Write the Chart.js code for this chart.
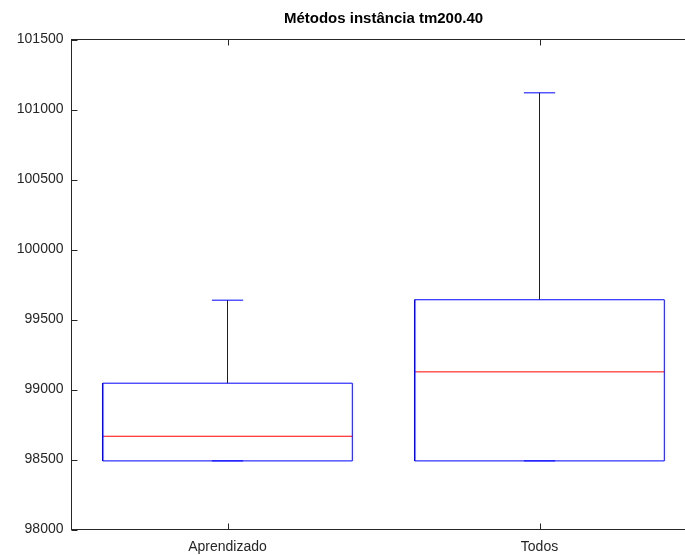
<!DOCTYPE html>
<html>
<head>
<meta charset="utf-8">
<script src="https://cdn.jsdelivr.net/npm/chart.js@4/dist/chart.umd.min.js"></script>
<style>
  html, body { margin: 0; padding: 0; background: #fff; overflow: hidden; }
  #wrap { width: 700px; height: 555px; }
</style>
</head>
<body>
<div id="wrap"><canvas id="boxChart" width="700" height="555"></canvas></div>
<script>
// Box plot summary per method
const categories = ['Aprendizado', 'Todos'];
const whiskerLow = [98490, 98490];
const quartile1 = [98490, 98490];
const medians = [98666, 99126];
const quartile3 = [99045, 99641];
const whiskerHigh = [99638, 101119];
const yTicks = [98000, 98500, 99000, 99500, 100000, 100500, 101000, 101500];

const BOX_HALF = 0.4;   // half width of each box, in category units
const CAP_HALF = 0.05;  // half width of whisker caps
const axisColor = '#262626';
const fontFamily = "'Liberation Sans', Arial, sans-serif";

// Outline of box + whiskers + caps, one polyline per category (null breaks the path)
function boxOutline(i) {
    const c = i + 1;
    return [
        { x: c - BOX_HALF, y: quartile1[i] },
        { x: c + BOX_HALF, y: quartile1[i] },
        { x: c + BOX_HALF, y: quartile3[i] },
        { x: c - BOX_HALF, y: quartile3[i] },
        { x: c - BOX_HALF, y: quartile1[i] },
        { x: c, y: null },
        { x: c, y: quartile3[i] },
        { x: c, y: whiskerHigh[i] },
        { x: c, y: null },
        { x: c - CAP_HALF, y: whiskerHigh[i] },
        { x: c + CAP_HALF, y: whiskerHigh[i] },
        { x: c, y: null },
        { x: c, y: quartile1[i] },
        { x: c, y: whiskerLow[i] },
        { x: c, y: null },
        { x: c - CAP_HALF, y: whiskerLow[i] },
        { x: c + CAP_HALF, y: whiskerLow[i] }
    ];
}

function medianLine(i) {
    const c = i + 1;
    return [
        { x: c - BOX_HALF, y: medians[i] },
        { x: c + BOX_HALF, y: medians[i] }
    ];
}

const lineStyle = { showLine: true, pointRadius: 0, borderWidth: 1, spanGaps: false, tension: 0 };
const datasets = [];
categories.forEach((name, i) => {
    datasets.push(Object.assign({ label: name, data: boxOutline(i), borderColor: '#0000ff' }, lineStyle));
    datasets.push(Object.assign({ label: name + ' mediana', data: medianLine(i), borderColor: '#ff0000' }, lineStyle));
});

// Octave-style frame with inward tick marks
const framePlugin = {
    id: 'frame',
    afterDraw(chart) {
        const { ctx, chartArea: a, scales } = chart;
        const len = 6;
        ctx.save();
        ctx.strokeStyle = axisColor;
        ctx.lineWidth = 1;
        ctx.strokeRect(a.left, a.top, a.right - a.left, a.bottom - a.top);
        ctx.beginPath();
        yTicks.forEach(v => {
            const y = Math.round(scales.y.getPixelForValue(v)) + 0.5;
            ctx.moveTo(a.left, y); ctx.lineTo(a.left + len, y);
            ctx.moveTo(a.right, y); ctx.lineTo(a.right - len, y);
        });
        categories.forEach((_, i) => {
            const x = Math.round(scales.x.getPixelForValue(i + 1)) + 0.5;
            ctx.moveTo(x, a.bottom); ctx.lineTo(x, a.bottom - len);
            ctx.moveTo(x, a.top); ctx.lineTo(x, a.top + len);
        });
        ctx.stroke();
        ctx.restore();
    }
};

new Chart(document.getElementById('boxChart').getContext('2d'), {
    type: 'line',
    data: { datasets },
    plugins: [framePlugin],
    options: {
        responsive: false,
        animation: false,
        layout: { padding: { left: 0, right: 4.5, top: 0, bottom: 0 } },
        plugins: {
            legend: { display: false },
            tooltip: { enabled: false },
            title: {
                display: true,
                text: 'Métodos instância tm200.40',
                fullSize: false,
                color: '#000',
                font: { family: fontFamily, size: 15, weight: 'bold', lineHeight: 1.2 },
                padding: { top: 9.5, bottom: 12 }
            }
        },
        scales: {
            x: {
                type: 'linear',
                min: 0.5,
                max: 2.5,
                afterBuildTicks: s => { s.ticks = categories.map((_, i) => ({ value: i + 1 })); },
                afterFit: s => { s.height = 25.5; },
                ticks: {
                    callback: v => categories[v - 1] || '',
                    color: axisColor,
                    padding: 9,
                    maxRotation: 0,
                    autoSkip: false,
                    font: { family: fontFamily, size: 14 }
                },
                grid: { display: false, drawTicks: false },
                border: { display: false }
            },
            y: {
                min: 98000,
                max: 101500,
                afterBuildTicks: s => { s.ticks = yTicks.map(v => ({ value: v })); },
                afterFit: s => { s.width = 71.5; },
                ticks: {
                    callback: v => String(v),
                    color: axisColor,
                    padding: 8,
                    font: { family: fontFamily, size: 14 }
                },
                grid: { display: false, drawTicks: false },
                border: { display: false }
            }
        }
    }
});
</script>
</body>
</html>
